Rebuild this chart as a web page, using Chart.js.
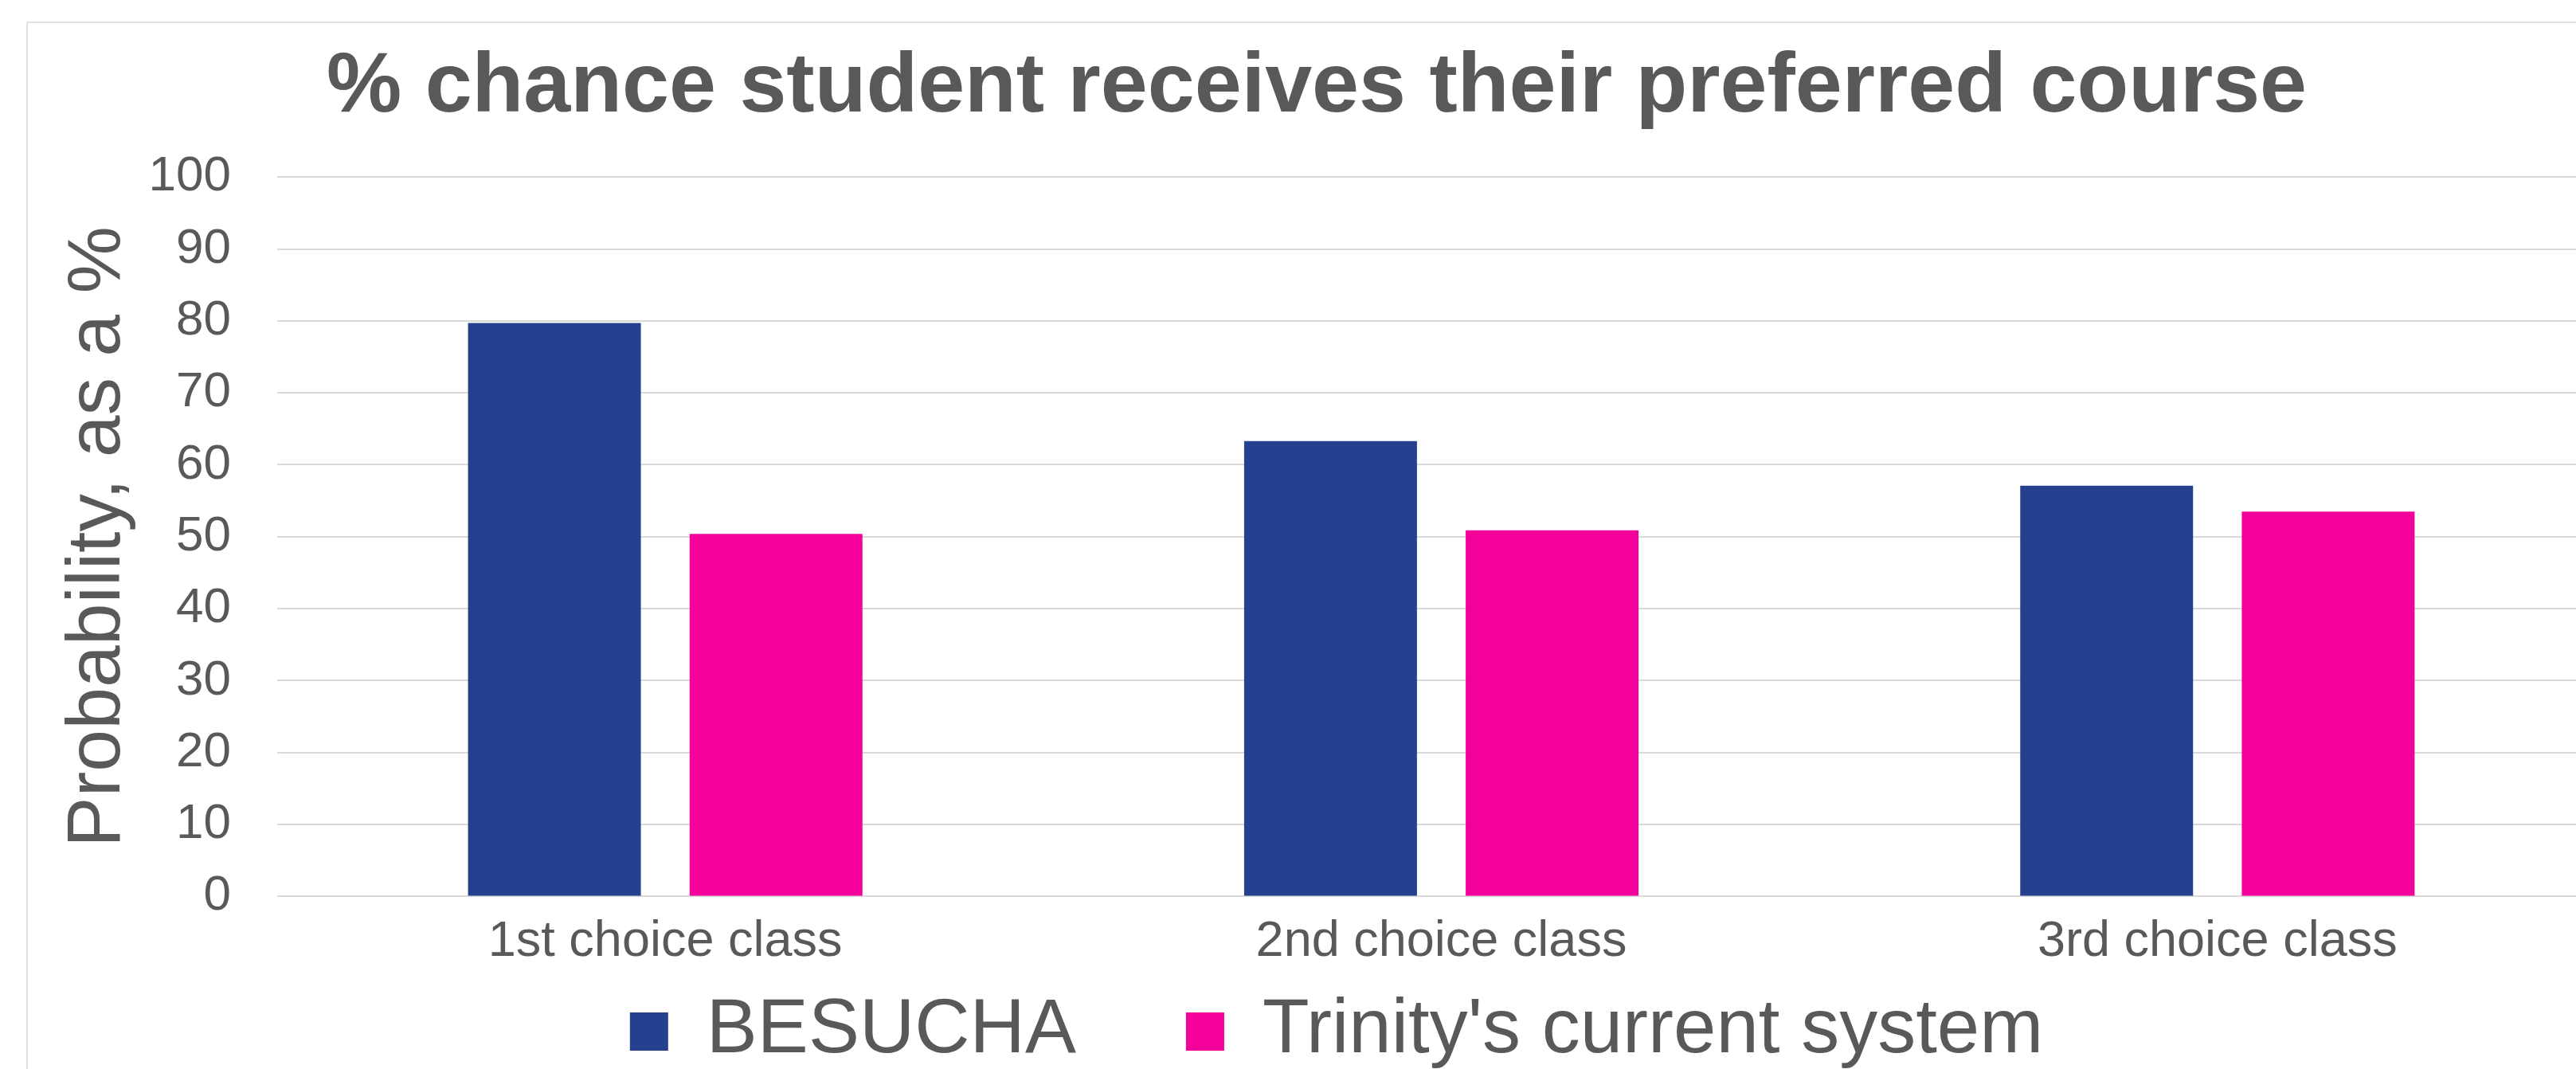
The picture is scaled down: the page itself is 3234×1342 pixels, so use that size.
<!DOCTYPE html>
<html>
<head>
<meta charset="utf-8">
<title>% chance student receives their preferred course</title>
<script src="https://cdn.jsdelivr.net/npm/chart.js@4.4.1/dist/chart.umd.min.js"></script>
<style>
  html, body { margin: 0; padding: 0; background: #ffffff; overflow: hidden; }
  body { width: 3234px; height: 1342px; position: relative; }
  #frame {
    position: absolute;
    left: 33px;
    top: 27px;
    width: 3268px;
    height: 1400px;
    border: 2px solid #e2e2e2;
    box-sizing: border-box;
    background: #ffffff;
  }
  #chart { display: block; }
</style>
</head>
<body>
<div id="frame"><canvas id="chart" width="3264" height="1454"></canvas></div>
<script>
var CATEGORIES = ["1st choice class", "2nd choice class", "3rd choice class"];
var BESUCHA = [79.7, 63.3, 57.1];
var TRINITY = [50.4, 50.9, 53.5];
var SERIES_NAMES = ["BESUCHA", "Trinity's current system"];
var Y_TICKS = [0, 10, 20, 30, 40, 50, 60, 70, 80, 90, 100];

(function () {
  var TEXT_COLOR = "#595959";
  var GRID_COLOR = "#d9d9d9";
  var FONT = "'Liberation Sans', Arial, sans-serif";
  var LEGEND_LIFT = 130;
  var LEGEND_SHIFT = 25;

  // wide gap between legend items but the row sits close under the axis labels
  var legendNudge = {
    id: "legendNudge",
    afterLayout: function (chart) {
      var lg = chart.legend;
      if (!lg) return;
      lg.top -= LEGEND_LIFT;
      lg.bottom -= LEGEND_LIFT;
      lg.left += LEGEND_SHIFT;
      lg.right += LEGEND_SHIFT;
    },
  };

  function init() {
    var canvas = document.getElementById("chart");
    if (!canvas || typeof Chart === "undefined") return;

    new Chart(canvas, {
      type: "bar",
      data: {
        labels: CATEGORIES,
        datasets: [
          {
            label: SERIES_NAMES[0],
            data: BESUCHA,
            backgroundColor: "#25408f",
            borderWidth: 0,
          },
          {
            label: SERIES_NAMES[1],
            data: TRINITY,
            backgroundColor: "#f4009a",
            borderWidth: 0,
          },
        ],
      },
      plugins: [legendNudge],
      options: {
        responsive: false,
        animation: false,
        devicePixelRatio: 1,
        categoryPercentage: 0.571,
        barPercentage: 0.78,
        layout: { padding: { left: 0, right: 28, top: 0, bottom: 0 } },
        plugins: {
          tooltip: { enabled: false },
          title: {
            display: true,
            text: "% chance student receives their preferred course",
            color: TEXT_COLOR,
            font: { family: FONT, size: 106, weight: "bold" },
            padding: { top: 18, bottom: 48 },
          },
          legend: {
            position: "bottom",
            labels: {
              color: TEXT_COLOR,
              font: { family: FONT, size: 96 },
              boxWidth: 48,
              boxHeight: 48,
              padding: 138,
            },
          },
        },
        scales: {
          x: {
            grid: { display: false, drawTicks: false },
            border: { display: false },
            ticks: {
              color: TEXT_COLOR,
              font: { family: FONT, size: 63 },
              padding: 19,
              maxRotation: 0,
            },
          },
          y: {
            min: 0,
            max: 100,
            afterBuildTicks: function (axis) {
              axis.ticks = Y_TICKS.map(function (v) { return { value: v }; });
            },
            afterFit: function (axis) { axis.width = 313; },
            grid: { color: GRID_COLOR, lineWidth: 2, drawTicks: false },
            border: { display: false },
            ticks: {
              color: TEXT_COLOR,
              font: { family: FONT, size: 62 },
              padding: 58,
            },
            title: {
              display: true,
              text: "Probability, as a %",
              color: TEXT_COLOR,
              font: { family: FONT, size: 95 },
              padding: { top: 32, bottom: 4 },
            },
          },
        },
      },
    });
  }

  document.addEventListener("DOMContentLoaded", init);
})();
</script>
</body>
</html>
